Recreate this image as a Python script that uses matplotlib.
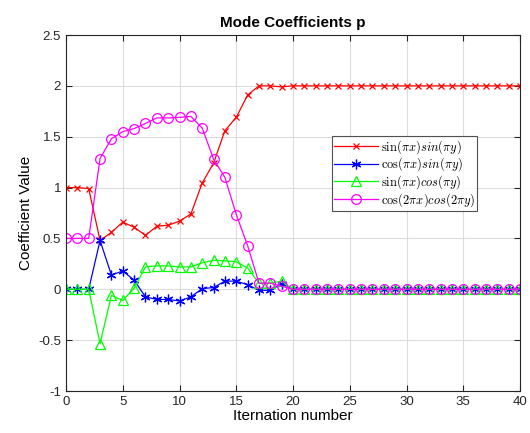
import matplotlib
matplotlib.use("Agg")
import matplotlib.pyplot as plt
import numpy as np

plt.rcParams['font.family'] = ['Liberation Sans', 'DejaVu Sans']
plt.rcParams['mathtext.fontset'] = 'cm'

iters = np.arange(0, 41)

# mode coefficients (first 21 iterations, then flat)
sin_sin = [1.0, 1.0, 0.99, 0.48, 0.56, 0.66, 0.61, 0.53, 0.62, 0.63, 0.67, 0.74,
           1.045, 1.24, 1.56, 1.69, 1.91, 2.0, 2.0, 1.99, 2.0] + [2.0] * 20
cos_sin = [0.0, 0.0, 0.0, 0.48, 0.14, 0.18, 0.09, -0.075, -0.1, -0.1, -0.115, -0.075,
           0.007, 0.017, 0.08, 0.08, 0.045, -0.01, -0.01, 0.055, 0.0] + [0.0] * 20
sin_cos = [0.0, 0.0, 0.0, -0.535, -0.06, -0.11, 0.01, 0.22, 0.23, 0.23, 0.22, 0.22,
           0.26, 0.285, 0.28, 0.27, 0.21, 0.06, 0.06, 0.08, 0.0] + [0.0] * 20
cos2_cos2 = [0.5, 0.5, 0.5, 1.285, 1.48, 1.55, 1.58, 1.63, 1.685, 1.685, 1.69, 1.70,
             1.585, 1.28, 1.10, 0.735, 0.43, 0.06, 0.06, 0.03, 0.0] + [0.0] * 20

labels = [r'$\sin(\pi x)sin(\pi y)$', r'$\cos(\pi x)sin(\pi y)$',
          r'$\sin(\pi x)cos(\pi y)$', r'$\cos(2\pi x)cos(2\pi y)$']

fig = plt.figure(figsize=(5.30, 4.33), dpi=100)
ax = fig.add_axes([66 / 530, 1 - 391 / 433, (520 - 66) / 530, (391 - 35) / 433])

ax.plot(iters, sin_sin, color='red', marker='x', ms=5, lw=0.9, mew=0.9, label=labels[0])
ax.plot(iters, cos_sin, color='blue', marker=(6, 2, 0), ms=7, lw=0.9, mew=0.9, label=labels[1])
ax.plot(iters, sin_cos, color='#00ff00', marker='^', ms=7, lw=0.9, mfc='none', mew=0.9, label=labels[2])
ax.plot(iters, cos2_cos2, color='magenta', marker='o', ms=7, lw=0.9, mfc='none', mew=0.9, label=labels[3])

ax.set_xlim(0, 40)
ax.set_ylim(-1, 2.5)
ax.set_xticks(range(0, 41, 5))
ax.set_yticks([-1, -0.5, 0, 0.5, 1, 1.5, 2, 2.5])
ax.set_yticklabels(['-1', '-0.5', '0', '0.5', '1', '1.5', '2', '2.5'])
ax.grid(True, color='#dcdcdc', lw=0.8)
ax.set_axisbelow(True)
ax.tick_params(direction='in', top=True, right=True, labelsize=9.5, colors='#262626', length=4)
for s in ax.spines.values():
    s.set_color('#262626')
    s.set_linewidth(0.8)

ax.set_title('Mode Coefficients p', fontsize=11, fontweight='bold', pad=6)
ax.set_xlabel('Iternation number', fontsize=11, labelpad=1)
ax.set_ylabel('Coefficient Value', fontsize=11, labelpad=4)

leg = ax.legend(loc='upper left', bbox_to_anchor=((332 - 66) / 454, 1 - (136 - 35) / 356),
                fontsize=9, frameon=True, fancybox=False, borderpad=0.15, labelspacing=0.0,
                handlelength=3.5, handletextpad=0.3, borderaxespad=0)
leg.get_frame().set_edgecolor('#262626')
leg.get_frame().set_linewidth(0.8)

fig.savefig('out.png', dpi=100)
